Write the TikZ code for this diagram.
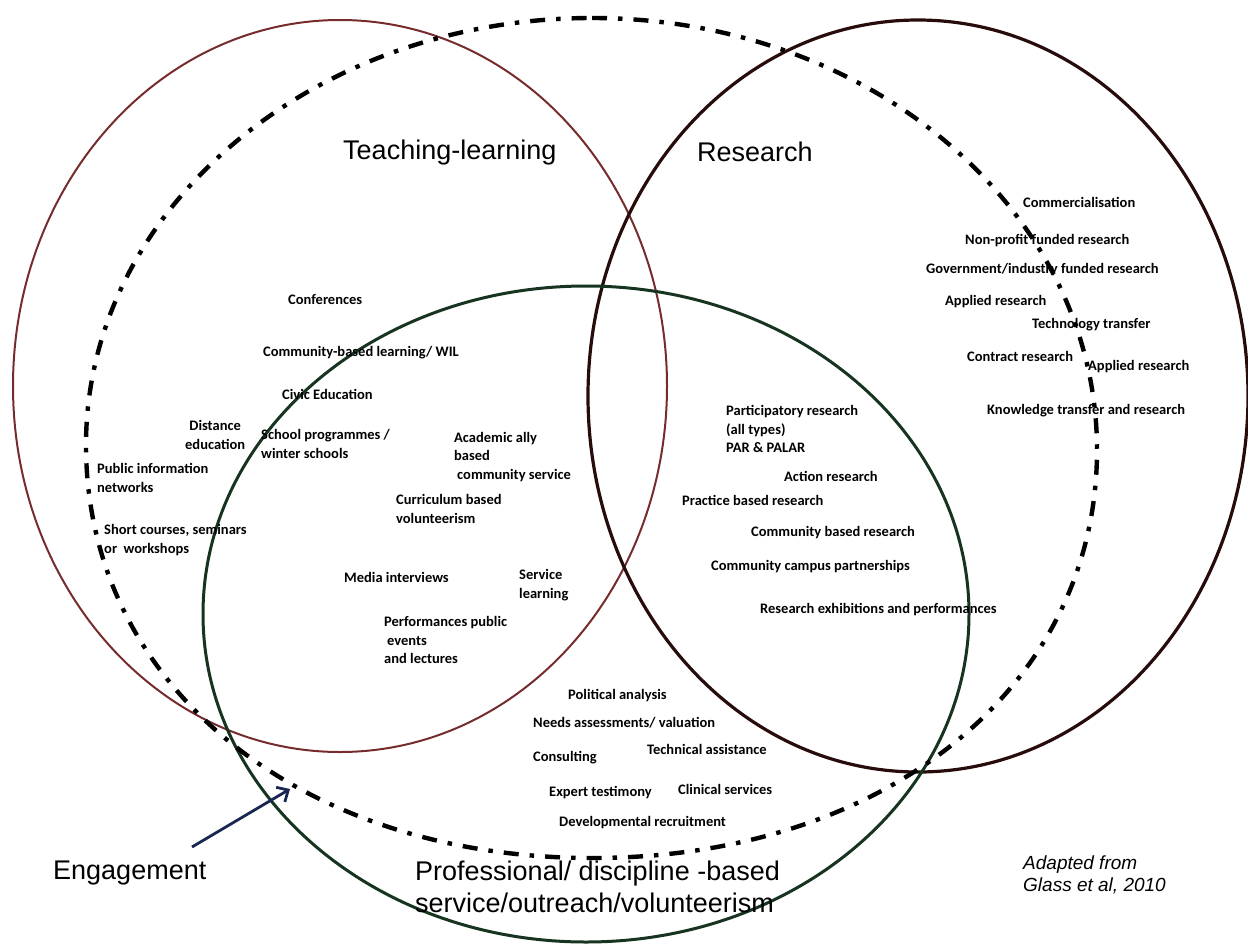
\documentclass[tikz,border=0pt]{standalone}
\usepackage{fontspec}
\setmainfont{Carlito}
\newfontfamily\headfont{Liberation Sans}
\usetikzlibrary{arrows.meta}
\definecolor{teachRed}{RGB}{118,44,44}
\definecolor{researchDark}{RGB}{40,12,12}
\definecolor{serviceGreen}{RGB}{22,52,32}
\definecolor{arrowNavy}{RGB}{24,38,82}
\begin{document}
\begin{tikzpicture}[x=1pt, y=-1pt, style={line cap=butt},
	item/.style={anchor=west, inner sep=0pt, align=left, font=\fontsize{14.5}{18.5}\selectfont\bfseries},
	heading/.style={anchor=west, inner sep=0pt, align=left, font=\headfont\fontsize{27}{32}\selectfont},
	source/.style={anchor=west, inner sep=0pt, align=left, font=\headfont\itshape\fontsize{19}{22}\selectfont},
	engage/.style={line width=4.4pt, dash pattern=on 15pt off 11pt on 4.5pt off 11pt}]
					\useasboundingbox (0,0) rectangle (1248,943);
					\draw[teachRed, line width=2pt] (340,386) ellipse [x radius=327pt, y radius=366pt];
					\draw[researchDark, line width=3.2pt] (918,396) ellipse [x radius=330pt, y radius=376pt];
					\draw[serviceGreen, line width=3pt] (586,614) ellipse [x radius=383pt, y radius=328pt];
					\draw[engage] (592,18) .. controls (871,18) and (1097,211) .. (1097,450)
						.. controls (1097,687) and (885,858) .. (592,858)
						.. controls (299,858) and (86,685) .. (86,445)
						.. controls (86,209) and (313,18) .. (592,18) -- cycle;
					\node[heading] (teach) at (343,153) {Teaching-learning};
					\node[heading] (res) at (697,152) {Research};
					\node[heading] (eng) at (53,873) {Engagement};
					\node[heading] (prof) at (415,887) {Professional/ discipline -based\\service/outreach/volunteerism};
					\node[source] (src) at (1023,875) {Adapted from\\Glass et al, 2010};
					\node[item] (conf) at (288,300) {Conferences};
					\node[item] (cbl) at (263,353) {Community-based learning/ WIL};
					\node[item] (civic) at (282,394) {Civic Education};
					\node[item, align=center] (dist) at (185,435) {Distance\\education};
					\node[item] (school) at (261,444) {School programmes /\\winter schools};
					\node[item] (acad) at (454,457) {Academic ally\\based\\\hspace*{3pt}community service};
					\node[item] (pubinfo) at (97,478) {Public information\\networks};
					\node[item] (curric) at (396,509) {Curriculum based\\volunteerism};
					\node[item] (short) at (104,540) {Short courses, seminars\\or\ \ workshops};
					\node[item] (media) at (344,577) {Media interviews};
					\node[item] (servl) at (519,585) {Service\\learning};
					\node[item] (perf) at (384,640) {Performances public\\\hspace*{3pt}events\\and lectures};
					\node[item] (partic) at (726,429) {Participatory research\\(all types)\\PAR \& PALAR};
					\node[item] (action) at (784,476) {Action research};
					\node[item] (practice) at (682,500) {Practice based research};
					\node[item] (cbr) at (751,533) {Community based research};
					\node[item] (ccp) at (711,567) {Community campus partnerships};
					\node[item] (exhib) at (760,610) {Research exhibitions and performances};
					\node[item] (comm) at (1023,202) {Commercialisation};
					\node[item] (nonprofit) at (965,241) {Non-profit funded research};
					\node[item] (gov) at (926,270) {Government/industry funded research};
					\node[item] (applied) at (945,302) {Applied research};
					\node[item] (techtr) at (1032,325) {Technology transfer};
					\node[item] (contract) at (967,356) {Contract research};
					\node[item] (appliedb) at (1088,367) {Applied research};
					\node[item] (knowtr) at (987,411) {Knowledge transfer and research};
					\node[item] (polit) at (568,696) {Political analysis};
					\node[item] (needs) at (533,723) {Needs assessments/ valuation};
					\node[item] (techas) at (647,749) {Technical assistance};
					\node[item] (consult) at (533,758) {Consulting};
					\node[item] (expert) at (549,793) {Expert testimony};
					\node[item] (clinic) at (678,789) {Clinical services};
					\node[item] (devrec) at (559,823) {Developmental recruitment};
					\coordinate (armtail) at (192,847);
					\coordinate (armtip) at (290,789);
					\draw[arrowNavy, line width=2.8pt, -{Straight Barb[length=9pt, width=17pt]}] (armtail) -- (armtip);
				\end{tikzpicture}
\end{document}
